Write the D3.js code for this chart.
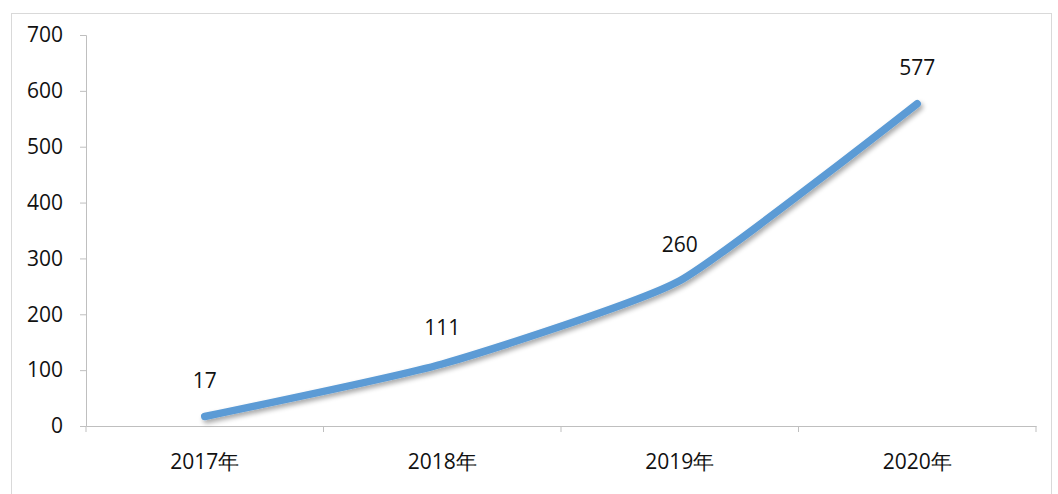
<!DOCTYPE html>
<html><head><meta charset="utf-8">
<script src="https://cdn.jsdelivr.net/npm/d3@7"></script>
<style>
body{margin:0;background:#fff;}
text{font-family:"Open Sans","DejaVu Sans",sans-serif;fill:#111;}
</style></head>
<body>
<svg id="c" width="1058" height="494"></svg>
<script>
const categories = ["2017年","2018年","2019年","2020年"];
const values = [17,111,260,577];
const yTicks = [0,100,200,300,400,500,600,700];

const svg = d3.select("#c");
svg.append("rect").attr("x",11.5).attr("y",13.5).attr("width",1040).attr("height",490)
  .attr("fill","#fff").attr("stroke","#d9d9d9");

const x = d3.scaleBand().domain(categories).range([86,1036]);
const y = d3.scaleLinear().domain([0,700]).range([426,35]);
const FS = 21;

// y axis
const ya = svg.append("g").attr("transform","translate(86,0)")
  .call(d3.axisLeft(y).tickValues(yTicks).tickSize(6).tickPadding(17));
ya.select(".domain").attr("stroke","#bfbfbf");
ya.selectAll(".tick line").attr("stroke","#bfbfbf");
ya.selectAll("text").attr("font-size",FS).attr("fill","#111").attr("font-family","Open Sans, DejaVu Sans, sans-serif");

// x axis
const xa = svg.append("g").attr("transform","translate(0,426)")
  .call(d3.axisBottom(x).tickSize(0).tickPadding(28));
xa.select(".domain").attr("stroke","#bfbfbf");
xa.selectAll("text").attr("font-size",FS).attr("fill","#111").attr("font-family","Open Sans, Noto Sans CJK SC, sans-serif");
const bounds = [86].concat(categories.map(c=>x(c)+x.bandwidth()));
xa.selectAll(".bt").data(bounds).enter().append("line").attr("class","bt")
  .attr("x1",d=>d).attr("x2",d=>d).attr("y1",0).attr("y2",6).attr("stroke","#bfbfbf");

const defs = svg.append("defs");
const f = defs.append("filter").attr("id","sh").attr("x","-10%").attr("y","-10%").attr("width","120%").attr("height","130%");
f.append("feGaussianBlur").attr("in","SourceAlpha").attr("stdDeviation",2.5);
f.append("feOffset").attr("dx",2).attr("dy",3).attr("result","o");
f.append("feComponentTransfer").append("feFuncA").attr("type","linear").attr("slope",0.35);
const m = f.append("feMerge"); m.append("feMergeNode"); m.append("feMergeNode").attr("in","SourceGraphic");

const pts = categories.map((c,i)=>[x(c)+x.bandwidth()/2, y(values[i])]);
const line = d3.line().curve(d3.curveCardinal.tension(0.5));
svg.append("path").attr("d",line(pts)).attr("fill","none").attr("stroke","#5b9bd5")
  .attr("stroke-width",7.5).attr("stroke-linecap","round").attr("stroke-linejoin","round")
  .attr("filter","url(#sh)");

svg.selectAll(".lbl").data(values).enter().append("text")
  .attr("x",(d,i)=>pts[i][0]).attr("y",(d,i)=>pts[i][1]-29)
  .attr("text-anchor","middle").attr("font-size",FS).text(d=>d);
</script>
</body></html>
